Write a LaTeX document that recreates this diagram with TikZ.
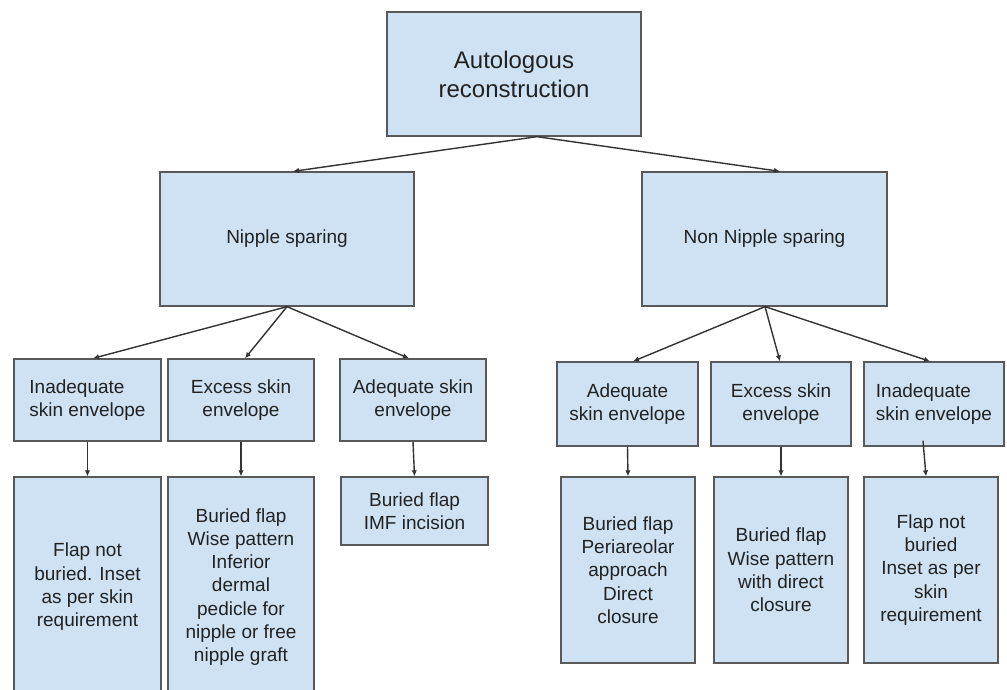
\documentclass[tikz,border=0pt]{standalone}
\usepackage{fontspec}
\setmainfont{Liberation Sans}
\usetikzlibrary{arrows.meta}
\definecolor{boxfill}{HTML}{CFE2F3}
\definecolor{boxdraw}{HTML}{595959}
\definecolor{txt}{HTML}{222222}
\begin{document}
\begin{tikzpicture}[x=1pt,y=-1pt,
  box/.style={draw=boxdraw, line width=1.3pt, fill=boxfill, text=txt, inner sep=0pt, align=center,
    font=\fontsize{19}{23.3}\selectfont},
  arr/.style={draw=black!80, line width=1.4pt, -{Latex[length=6pt,width=5.5pt]}}]
\useasboundingbox (0,0) rectangle (1007,689);
\clip (0,0) rectangle (1007,689);
\fill[white] (0,0) rectangle (1007,689);
% level 1
\node[box, minimum width=254pt, minimum height=124pt, font=\fontsize{24}{29}\selectfont] (top) at (514,74) {Autologous\\reconstruction};
% level 2
\node[box, minimum width=254pt, minimum height=134pt] (ns) at (287,239) {Nipple sparing};
\node[box, minimum width=245pt, minimum height=134pt] (nns) at (764.5,239) {Non Nipple sparing};
% level 3 left
\node[box, align=left, minimum width=147pt, minimum height=82pt] (i1) at (87.5,400) {Inadequate\\skin envelope};
\node[box, minimum width=146pt, minimum height=82pt] (e1) at (241,400) {Excess skin\\envelope};
\node[box, minimum width=146pt, minimum height=82pt] (a1) at (413,400) {Adequate skin\\envelope};
% level 3 right
\node[box, minimum width=141pt, minimum height=84pt] (a2) at (627.5,404) {Adequate\\skin envelope};
\node[box, minimum width=140pt, minimum height=84pt] (e2) at (781,404) {Excess skin\\envelope};
\node[box, align=left, minimum width=140pt, minimum height=84pt] (i2) at (934,404) {Inadequate\\skin envelope};
% level 4 left
\node[box, minimum width=147pt, minimum height=220pt] (f1) at (87.5,587) {Flap not\\buried. Inset\\as per skin\\requirement};
\node[box, minimum width=146pt, minimum height=220pt] (w1) at (241,587) {Buried flap\\Wise pattern\\Inferior\\dermal\\pedicle for\\nipple or free\\nipple graft};
\node[box, minimum width=147pt, minimum height=68pt] (m1) at (414.5,511) {Buried flap\\IMF incision};
% level 4 right
\node[box, minimum width=134pt, minimum height=186pt] (p2) at (628,570) {Buried flap\\Periareolar\\approach\\Direct\\closure};
\node[box, minimum width=134pt, minimum height=186pt] (w2) at (781,570) {Buried flap\\Wise pattern\\with direct\\closure};
\node[box, minimum width=134pt, minimum height=186pt] (f2) at (931,570) {Flap not\\buried\\Inset as per\\skin\\requirement};
% connectors
\draw[arr] ([xshift=23pt]top.south) -- ([xshift=6pt]ns.north);
\draw[arr] ([xshift=23pt]top.south) -- ([xshift=15.5pt]nns.north);
\draw[arr] (ns.south) -- ([xshift=5.5pt]i1.north);
\draw[arr] (ns.south) -- ([xshift=4pt]e1.north);
\draw[arr] (ns.south) -- ([xshift=-4pt]a1.north);
\draw[arr] ([xshift=0.5pt]nns.south) -- ([xshift=5.5pt]a2.north);
\draw[arr] ([xshift=0.5pt]nns.south) -- ([xshift=-1pt]e2.north);
\draw[arr] ([xshift=0.5pt]nns.south) -- ([xshift=-4pt]i2.north);
\draw[arr] (i1.south) -- (f1.north);
\draw[arr] (e1.south) -- (w1.north);
\draw[arr] (a1.south) -- (m1.north);
\draw[arr] (a2.south) -- (p2.north);
\draw[arr] (e2.south) -- (w2.north);
\draw[arr] ([xshift=-11pt,yshift=6pt]i2.south) -- ([xshift=-5pt]f2.north);
\end{tikzpicture}
\end{document}
